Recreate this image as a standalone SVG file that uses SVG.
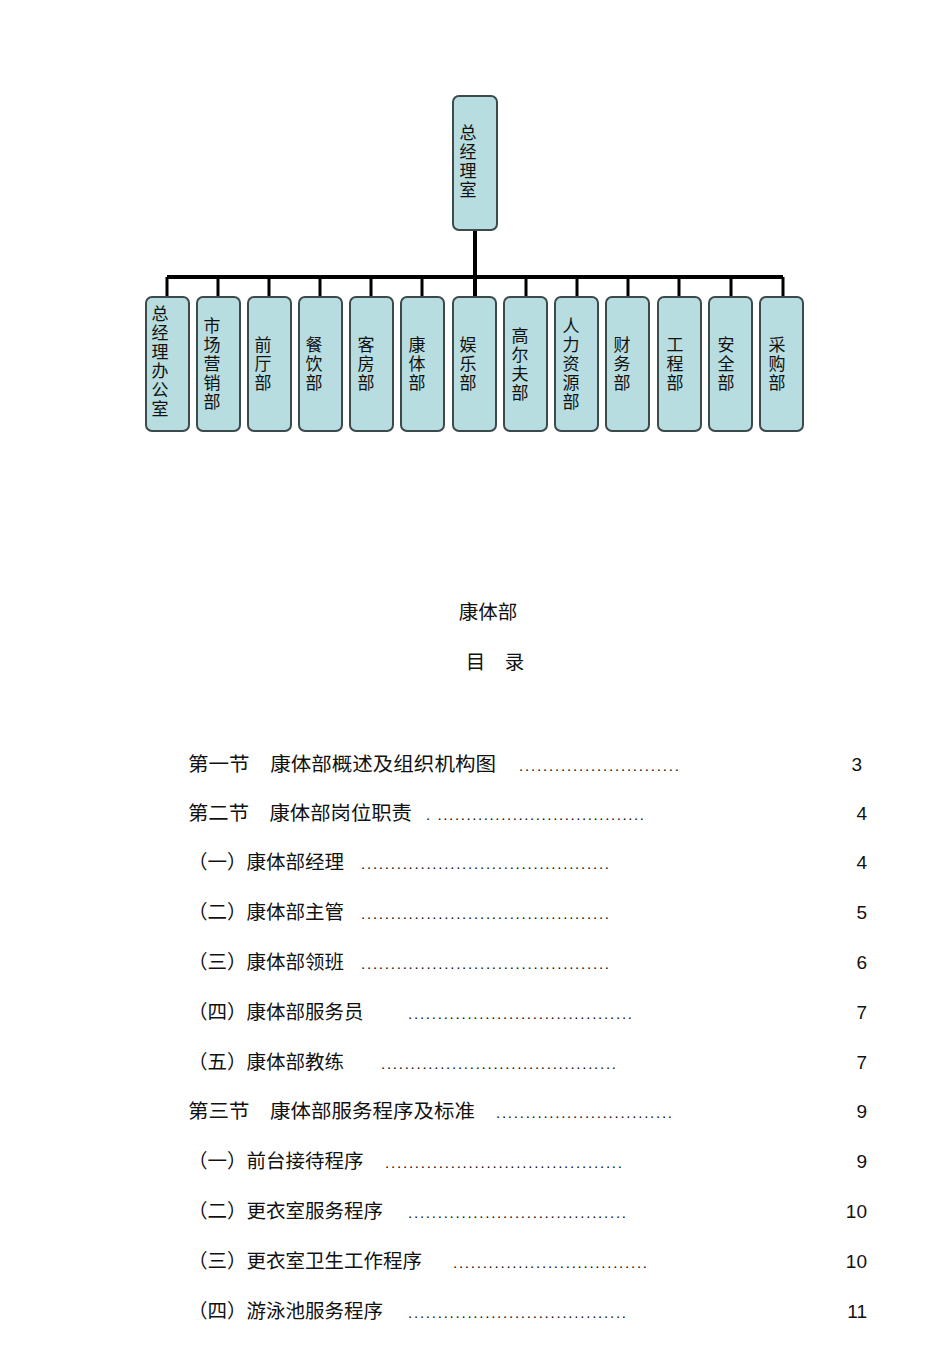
<svg xmlns="http://www.w3.org/2000/svg" width="950" height="1345" viewBox="0 0 950 1345">
<style>
.b{fill:#b7dde0;stroke:#3c4a4c;stroke-width:2}
.v{font-family:"Noto Sans CJK SC",sans-serif;font-size:17px;fill:#111;text-anchor:middle}
.t{font-family:"Liberation Sans","Noto Sans CJK SC",sans-serif;font-size:19.5px;fill:#111}
.d{font-family:"Liberation Sans",sans-serif;font-size:15px;fill:#111}
.n{font-family:"Liberation Sans",sans-serif;font-size:19px;fill:#111;text-anchor:end}
</style>
<rect width="950" height="1345" fill="#fff"/>
<g id="connectors" stroke="#000" stroke-width="4" fill="none">
<path d="M475 230V297M167 277H783"/>
<path d="M167 277V297M218 277V297M269 277V297M320 277V297M371 277V297M422 277V297M526 277V297M577 277V297M628 277V297M679 277V297M731 277V297M783 277V297" stroke-width="3"/>
</g>
<g id="n0"><rect class="b" x="453" y="96" width="44" height="134" rx="6"/><text class="v" x="475"><tspan x="468" y="139">总</tspan><tspan x="468" y="158">经</tspan><tspan x="468" y="177">理</tspan><tspan x="468" y="196">室</tspan></text></g>
<g id="n1"><rect class="b" x="146" y="297" width="43" height="134" rx="6"/><text class="v"><tspan x="160" y="320">总</tspan><tspan x="160" y="339">经</tspan><tspan x="160" y="358">理</tspan><tspan x="160" y="377">办</tspan><tspan x="160" y="396">公</tspan><tspan x="160" y="415">室</tspan></text></g>
<g id="n2"><rect class="b" x="197" y="297" width="43" height="134" rx="6"/><text class="v"><tspan x="212" y="332">市</tspan><tspan x="212" y="351">场</tspan><tspan x="212" y="370">营</tspan><tspan x="212" y="389">销</tspan><tspan x="212" y="408">部</tspan></text></g>
<g id="n3"><rect class="b" x="248" y="297" width="43" height="134" rx="6"/><text class="v"><tspan x="263" y="351">前</tspan><tspan x="263" y="370">厅</tspan><tspan x="263" y="389">部</tspan></text></g>
<g id="n4"><rect class="b" x="299" y="297" width="43" height="134" rx="6"/><text class="v"><tspan x="314" y="351">餐</tspan><tspan x="314" y="370">饮</tspan><tspan x="314" y="389">部</tspan></text></g>
<g id="n5"><rect class="b" x="350" y="297" width="43" height="134" rx="6"/><text class="v"><tspan x="366" y="351">客</tspan><tspan x="366" y="370">房</tspan><tspan x="366" y="389">部</tspan></text></g>
<g id="n6"><rect class="b" x="401" y="297" width="43" height="134" rx="6"/><text class="v"><tspan x="417" y="351">康</tspan><tspan x="417" y="370">体</tspan><tspan x="417" y="389">部</tspan></text></g>
<g id="n7"><rect class="b" x="453" y="297" width="43" height="134" rx="6"/><text class="v"><tspan x="468" y="351">娱</tspan><tspan x="468" y="370">乐</tspan><tspan x="468" y="389">部</tspan></text></g>
<g id="n8"><rect class="b" x="504" y="297" width="43" height="134" rx="6"/><text class="v"><tspan x="520" y="342">高</tspan><tspan x="520" y="361">尔</tspan><tspan x="520" y="380">夫</tspan><tspan x="520" y="399">部</tspan></text></g>
<g id="n9"><rect class="b" x="555" y="297" width="43" height="134" rx="6"/><text class="v"><tspan x="571" y="332">人</tspan><tspan x="571" y="351">力</tspan><tspan x="571" y="370">资</tspan><tspan x="571" y="389">源</tspan><tspan x="571" y="408">部</tspan></text></g>
<g id="n10"><rect class="b" x="606" y="297" width="43" height="134" rx="6"/><text class="v"><tspan x="622" y="351">财</tspan><tspan x="622" y="370">务</tspan><tspan x="622" y="389">部</tspan></text></g>
<g id="n11"><rect class="b" x="658" y="297" width="43" height="134" rx="6"/><text class="v"><tspan x="675" y="351">工</tspan><tspan x="675" y="370">程</tspan><tspan x="675" y="389">部</tspan></text></g>
<g id="n12"><rect class="b" x="709" y="297" width="43" height="134" rx="6"/><text class="v"><tspan x="726" y="351">安</tspan><tspan x="726" y="370">全</tspan><tspan x="726" y="389">部</tspan></text></g>
<g id="n13"><rect class="b" x="760" y="297" width="43" height="134" rx="6"/><text class="v"><tspan x="777" y="351">采</tspan><tspan x="777" y="370">购</tspan><tspan x="777" y="389">部</tspan></text></g>
<text class="t" x="488" y="619" text-anchor="middle">康体部</text>
<text class="t" x="495" y="669" text-anchor="middle">目　录</text>
<g id="toc">
<text class="t" x="188" y="771" textLength="308" lengthAdjust="spacingAndGlyphs">第一节　康体部概述及组织机构图</text><text class="d" x="519" y="771" textLength="160" lengthAdjust="spacing">...........................</text><text class="n" x="862" y="771">3</text>
<text class="t" x="188" y="820" textLength="224" lengthAdjust="spacingAndGlyphs">第二节　康体部岗位职责</text><text class="d" x="426" y="820" textLength="218" lengthAdjust="spacing">. ....................................</text><text class="n" x="867" y="820">4</text>
<text class="t" x="188" y="869">（一）康体部经理</text><text class="d" x="361" y="869" textLength="248" lengthAdjust="spacing">..........................................</text><text class="n" x="867" y="869">4</text>
<text class="t" x="188" y="919">（二）康体部主管</text><text class="d" x="361" y="919" textLength="248" lengthAdjust="spacing">..........................................</text><text class="n" x="867" y="919">5</text>
<text class="t" x="188" y="969">（三）康体部领班</text><text class="d" x="361" y="969" textLength="248" lengthAdjust="spacing">..........................................</text><text class="n" x="867" y="969">6</text>
<text class="t" x="188" y="1019">（四）康体部服务员</text><text class="d" x="408" y="1019" textLength="224" lengthAdjust="spacing">......................................</text><text class="n" x="867" y="1019">7</text>
<text class="t" x="188" y="1069">（五）康体部教练</text><text class="d" x="381" y="1069" textLength="235" lengthAdjust="spacing">........................................</text><text class="n" x="867" y="1069">7</text>
<text class="t" x="188" y="1118" textLength="287" lengthAdjust="spacingAndGlyphs">第三节　康体部服务程序及标准</text><text class="d" x="496" y="1118" textLength="176" lengthAdjust="spacing">..............................</text><text class="n" x="867" y="1118">9</text>
<text class="t" x="188" y="1168">（一）前台接待程序</text><text class="d" x="385" y="1168" textLength="237" lengthAdjust="spacing">........................................</text><text class="n" x="867" y="1168">9</text>
<text class="t" x="188" y="1218">（二）更衣室服务程序</text><text class="d" x="408" y="1218" textLength="218" lengthAdjust="spacing">.....................................</text><text class="n" x="867" y="1218">10</text>
<text class="t" x="188" y="1268">（三）更衣室卫生工作程序</text><text class="d" x="453" y="1268" textLength="194" lengthAdjust="spacing">.................................</text><text class="n" x="867" y="1268">10</text>
<text class="t" x="188" y="1318">（四）游泳池服务程序</text><text class="d" x="408" y="1318" textLength="218" lengthAdjust="spacing">.....................................</text><text class="n" x="867" y="1318">11</text>
</g>
</svg>
